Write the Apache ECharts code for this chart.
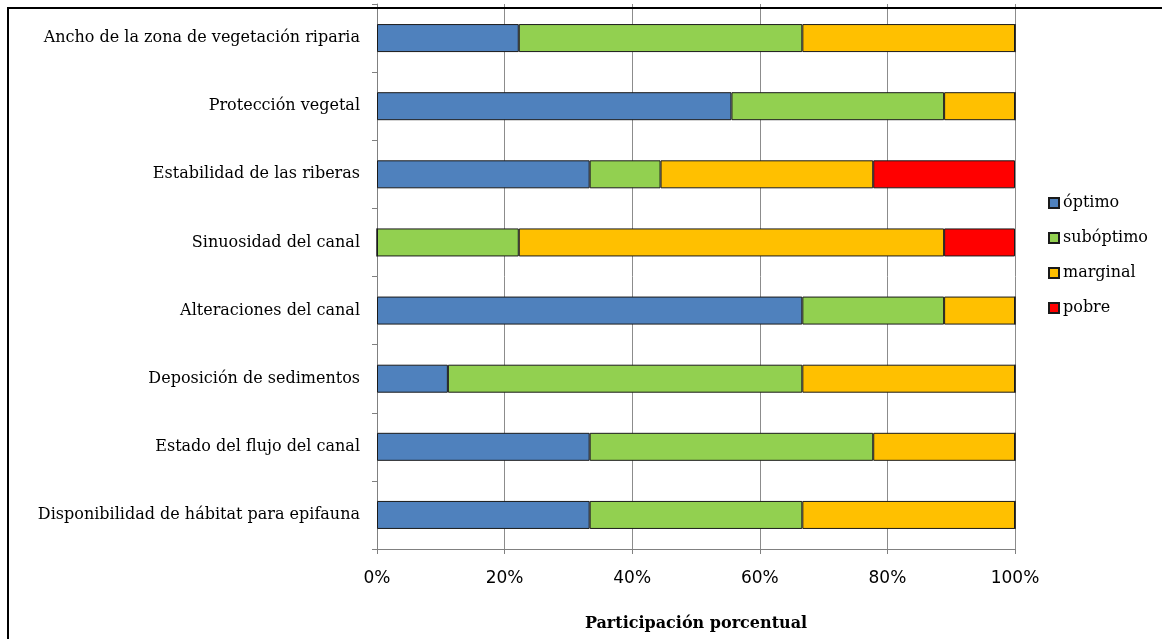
<!DOCTYPE html>
<html>
<head>
<meta charset="utf-8">
<script src="https://cdn.jsdelivr.net/npm/echarts@6/dist/echarts.min.js"></script>
<style>
html,body{margin:0;padding:0;background:#fff;overflow:hidden;width:1162px;height:639px;}
#c{position:absolute;left:0;top:0;width:1162px;height:639px;}
#wrap{position:absolute;left:0;top:0;width:1162px;height:639px;overflow:hidden;pointer-events:none;}
#frame{position:absolute;left:7px;top:7px;width:1170px;height:650px;border-left:2px solid #000;border-top:2px solid #000;}
</style>
</head>
<body>
<div id="c"></div>
<div id="wrap"><div id="frame"></div></div>
<script>
// Categories, top to bottom
var categories = [
  'Ancho de la zona de vegetación riparia',
  'Protección vegetal',
  'Estabilidad de las riberas',
  'Sinuosidad del canal',
  'Alteraciones del canal',
  'Deposición de sedimentos',
  'Estado del flujo del canal',
  'Disponibilidad de hábitat para epifauna'
];
// Counts per class (read as ninths of each bar)
var optimo     = [2, 5, 3, 0, 6, 1, 3, 3];
var suboptimo  = [4, 3, 1, 2, 2, 5, 4, 3];
var marginal   = [3, 1, 3, 6, 1, 3, 2, 3];
var pobre      = [0, 0, 2, 1, 0, 0, 0, 0];
var seriesNames = ['óptimo', 'subóptimo', 'marginal', 'pobre'];
var xTicks = ['0%', '20%', '40%', '60%', '80%', '100%'];

var groups = [optimo, suboptimo, marginal, pobre];
var colors = ['#4F81BD', '#92D050', '#FFC000', '#FF0000'];
var totals = categories.map(function (_, i) {
  return groups.reduce(function (s, g) { return s + g[i]; }, 0);
});
function pct(arr) { return arr.map(function (v, i) { return v / totals[i] * 100; }); }

var chart = echarts.init(document.getElementById('c'));
chart.setOption({
  animation: false,
  backgroundColor: '#fff',
  grid: { left: 377, right: 147, top: 4, bottom: 90, containLabel: false },
  legend: {
    orient: 'vertical',
    left: 1043,
    top: 190,
    itemWidth: 10,
    itemHeight: 10,
    itemGap: 19,
    icon: 'rect',
    textStyle: { fontFamily: 'DejaVu Serif', fontSize: 16, color: '#000', padding: [0, 0, 0, -1] },
    data: seriesNames
  },
  xAxis: {
    type: 'value',
    min: 0, max: 100, interval: 20,
    name: 'Participación porcentual',
    nameLocation: 'middle',
    nameGap: 67,
    nameTextStyle: { fontFamily: 'DejaVu Serif', fontWeight: 'bold', fontSize: 16, color: '#000' },
    axisLine: { show: true, lineStyle: { color: '#808080' } },
    axisTick: { show: true, length: 5, lineStyle: { color: '#808080' } },
    axisLabel: {
      margin: 21,
      fontFamily: 'DejaVu Sans', fontSize: 17, color: '#000',
      formatter: function (v) { return xTicks[Math.round(v / 20)]; }
    },
    splitLine: { show: true, lineStyle: { color: '#8c8c8c', width: 1 } }
  },
  yAxis: {
    type: 'category',
    inverse: true,
    data: categories,
    axisLine: { show: true, lineStyle: { color: '#808080' } },
    axisTick: { show: true, length: 5, lineStyle: { color: '#808080' } },
    axisLabel: { margin: 17, fontFamily: 'DejaVu Serif', fontSize: 16, color: '#000' },
    splitLine: { show: false }
  },
  series: groups.map(function (g, k) {
    return {
      name: seriesNames[k],
      type: 'bar',
      stack: 'total',
      barWidth: 28,
      data: pct(g),
      itemStyle: { color: colors[k], borderColor: '#1a1a1a', borderWidth: 1 }
    };
  })
});
</script>
</body>
</html>
